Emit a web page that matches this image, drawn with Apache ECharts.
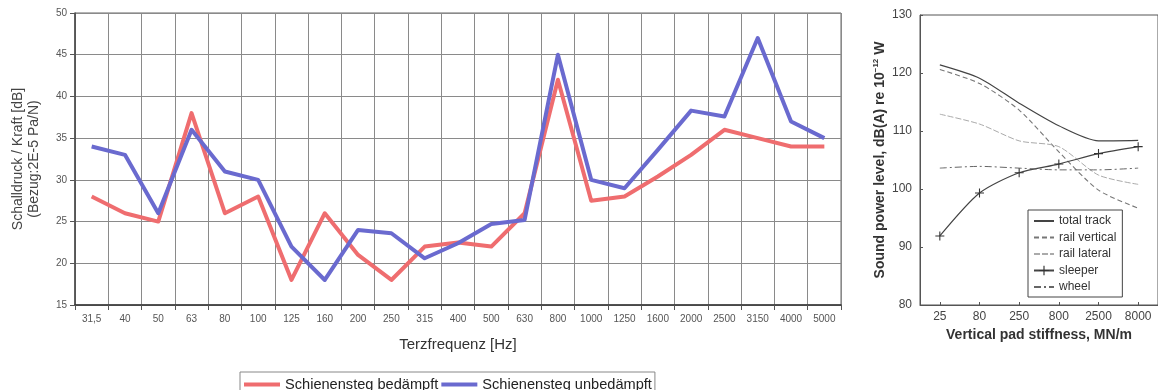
<!DOCTYPE html>
<html>
<head>
<meta charset="utf-8">
<script src="https://cdn.jsdelivr.net/npm/echarts@6/dist/echarts.min.js"></script>
<style>html,body{margin:0;padding:0;background:#fff;}#c{width:1158px;height:390px;}</style>
</head>
<body>
<div id="c"></div>
<script>
// ---- Left chart data ----
const terzCategories = ['31,5','40','50','63','80','100','125','160','200','250','315','400','500','630','800','1000','1250','1600','2000','2500','3150','4000','5000'];
const bedaempft   = [28, 26, 25, 38, 26, 28, 18, 26, 21, 18, 22, 22.5, 22, 26, 42, 27.5, 28, 30.4, 33, 36, 35, 34, 34];
const unbedaempft = [34, 33, 26, 36, 31, 30, 22, 18, 24, 23.6, 20.6, 22.4, 24.7, 25.2, 45, 30, 29, 33.6, 38.3, 37.6, 47, 37, 35];
const leftYTicks = [15, 20, 25, 30, 35, 40, 45, 50];

// ---- Right chart data ----
const stiffness    = ['25', '80', '250', '800', '2500', '8000'];
const totalTrack   = [121.4, 119.1, 114.8, 110.9, 108.3, 108.4];
const railVertical = [120.6, 118.2, 113.6, 106.4, 99.8, 96.7];
const railLateral  = [112.9, 111.2, 108.3, 107.3, 102.4, 100.8];
const sleeper      = [91.9, 99.3, 102.8, 104.3, 106.1, 107.3];
const wheel        = [103.6, 103.9, 103.6, 103.3, 103.3, 103.6];
const rightYTicks  = [80, 90, 100, 110, 120, 130];

const sans = "'Liberation Sans',Arial,sans-serif";
const plusPath = 'path://M4.4,0h1.2v4.4h4.4v1.2h-4.4v4.4h-1.2v-4.4h-4.4v-1.2h4.4z';
const noSym = {opacity: 0, borderWidth: 0};

const chart = echarts.init(document.getElementById('c'), null, {renderer: 'canvas'});
chart.setOption({
  animation: false,
  backgroundColor: '#ffffff',
  textStyle: {fontFamily: sans},
  grid: [
    {left: 75, top: 13, width: 766, height: 292, show: true, borderColor: '#666', borderWidth: 1, containLabel: false},
    {left: 920, top: 15, width: 240, height: 290, show: true, borderColor: '#555', borderWidth: 1, containLabel: false}
  ],
  legend: [
    {
      left: 240, top: 372, orient: 'horizontal',
      data: ['Schienensteg bedämpft', 'Schienensteg unbedämpft'],
      icon: 'rect',
      itemWidth: 36, itemHeight: 4, itemGap: 3,
      padding: [5, 3, 10, 4],
      borderColor: '#888', borderWidth: 1,
      textStyle: {fontFamily: sans, fontSize: 14.6, color: '#222'}
    },
    {
      left: 1028, top: 210, orient: 'vertical',
      data: [
        {name: 'total track', itemStyle: noSym},
        {name: 'rail vertical', itemStyle: noSym},
        {name: 'rail lateral', itemStyle: noSym},
        {name: 'sleeper'},
        {name: 'wheel', itemStyle: noSym}
      ],
      itemWidth: 20, itemHeight: 12, itemGap: 4.5,
      padding: [5, 6, 4, 5],
      borderColor: '#444', borderWidth: 1, backgroundColor: '#fff',
      textStyle: {fontFamily: sans, fontSize: 12, color: '#333'}
    }
  ],
  xAxis: [
    {
      gridIndex: 0, type: 'category', data: terzCategories, boundaryGap: true,
      axisLine: {show: true, lineStyle: {color: '#333', width: 1.5}},
      axisTick: {show: true, interval: 0, length: 5, lineStyle: {color: '#555'}},
      axisLabel: {interval: 0, fontSize: 10, color: '#555', margin: 9},
      splitLine: {show: true, interval: 0, lineStyle: {color: '#8a8a8a', width: 1}},
      name: 'Terzfrequenz [Hz]', nameLocation: 'middle', nameGap: 32,
      nameTextStyle: {fontFamily: sans, fontSize: 15, color: '#333'}
    },
    {
      gridIndex: 1, type: 'category', data: stiffness, boundaryGap: true,
      axisLine: {show: true, lineStyle: {color: '#555'}},
      axisTick: {show: true, inside: true, alignWithLabel: true, length: 3, lineStyle: {color: '#555'}},
      axisLabel: {interval: 0, fontSize: 12, color: '#444', margin: 6},
      splitLine: {show: false},
      name: 'Vertical pad stiffness, MN/m', nameLocation: 'middle', nameGap: 23,
      nameTextStyle: {fontWeight: 'bold', fontSize: 14, color: '#333'}
    }
  ],
  yAxis: [
    {
      gridIndex: 0, type: 'value', min: leftYTicks[0], max: leftYTicks[leftYTicks.length - 1], interval: 5,
      axisLine: {show: true, lineStyle: {color: '#444', width: 1.5}},
      axisTick: {show: true, length: 5, lineStyle: {color: '#555'}},
      axisLabel: {fontSize: 10, color: '#555', margin: 8},
      splitLine: {show: true, lineStyle: {color: '#8a8a8a', width: 1}},
      name: 'Schalldruck / Kraft [dB]\n(Bezug:2E-5 Pa/N)', nameLocation: 'middle', nameGap: 33,
      nameTextStyle: {fontSize: 14, lineHeight: 16, color: '#444', align: 'center'}
    },
    {
      gridIndex: 1, type: 'value', min: rightYTicks[0], max: rightYTicks[rightYTicks.length - 1], interval: 10,
      axisLine: {show: true, lineStyle: {color: '#555'}},
      axisTick: {show: true, inside: true, length: 3, lineStyle: {color: '#555'}},
      axisLabel: {fontSize: 12, color: '#444', margin: 8},
      splitLine: {show: false},
      name: 'Sound power level, dB(A) re 10{s|−12} W', nameLocation: 'middle', nameGap: 26,
      nameTextStyle: {
        fontWeight: 'bold', fontSize: 14, color: '#333', lineHeight: 16,
        rich: {s: {fontSize: 8, fontWeight: 'bold', color: '#333', verticalAlign: 'top', lineHeight: 16}}
      }
    }
  ],
  series: [
    {name: 'Schienensteg bedämpft', type: 'line', xAxisIndex: 0, yAxisIndex: 0, data: bedaempft,
     symbol: 'none', color: '#ef6d6f', lineStyle: {width: 4, color: '#ef6d6f', join: 'round'}},
    {name: 'Schienensteg unbedämpft', type: 'line', xAxisIndex: 0, yAxisIndex: 0, data: unbedaempft,
     symbol: 'none', color: '#6a6acf', lineStyle: {width: 4, color: '#6a6acf', join: 'round'}},

    {name: 'total track', type: 'line', xAxisIndex: 1, yAxisIndex: 1, data: totalTrack, smooth: 0.25,
     symbol: 'none', color: '#444', lineStyle: {width: 1.2, color: '#444'}},
    {name: 'rail vertical', type: 'line', xAxisIndex: 1, yAxisIndex: 1, data: railVertical, smooth: 0.25,
     symbol: 'none', color: '#777', lineStyle: {width: 1.1, color: '#777', type: [5, 3]}},
    {name: 'rail lateral', type: 'line', xAxisIndex: 1, yAxisIndex: 1, data: railLateral, smooth: 0.25,
     symbol: 'none', color: '#aaa', lineStyle: {width: 1, color: '#aaa', type: [6, 2]}},
    {name: 'sleeper', type: 'line', xAxisIndex: 1, yAxisIndex: 1, data: sleeper, smooth: 0.25,
     symbol: plusPath, symbolSize: 9, showSymbol: true, color: '#333',
     itemStyle: {color: '#333'}, lineStyle: {width: 1.2, color: '#444'}},
    {name: 'wheel', type: 'line', xAxisIndex: 1, yAxisIndex: 1, data: wheel, smooth: 0.25,
     symbol: 'none', color: '#666', lineStyle: {width: 1, color: '#666', type: [7, 3, 2, 3]}}
  ]
});
</script>
</body>
</html>
